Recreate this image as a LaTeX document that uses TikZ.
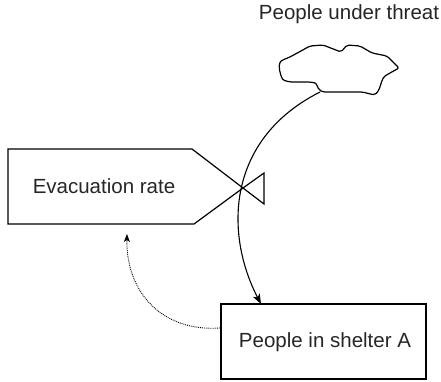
\documentclass[tikz,border=0pt]{standalone}
\usepackage{fontspec}
\setmainfont{Liberation Sans}
\usetikzlibrary{arrows.meta}
\tikzset{
  lbl/.style={font=\fontsize{20.5}{24}\selectfont, text=black!85},
  outline/.style={draw=black, line width=1.2pt},
  flowarrow/.style={line width=1.1pt, -{Stealth[length=10pt,width=7.5pt,inset=2.5pt]}},
  infoarrow/.style={line width=0.9pt, densely dotted, -{Stealth[length=8pt,width=6pt,inset=2pt]}}
}
\begin{document}
\begin{tikzpicture}[x=1pt,y=-1pt]
\useasboundingbox (0,0) rectangle (441,381);

% source cloud
\draw[outline, line join=round, rounded corners=2pt]
  (310,46) -- (323,45) -- (341,52) -- (347,45) -- (360,46) -- (372,53)
  -- (387,56) -- (399,68) -- (390,73) .. controls (383,77) .. (379,90)
  -- (375,95) -- (366,93) -- (363,92) -- (323,92) -- (319,90)
  .. controls (316,83) .. (310,82) -- (290,82) .. controls (282,80) .. (279,68)
  .. controls (280,61) .. (290,57) -- cycle;
\coordinate (cloudout) at (320,92);
\node[lbl, anchor=base] (threat) at (349,19) {People under threat};

% rate (valve) shape
\draw[outline, line join=miter]
  (8,149) -- (192,149) -- (243,188) -- (194,224) -- (8,224) -- cycle;
\draw[outline, line join=miter]
  (243,188) -- (264,173) -- (264,204) -- cycle;
\coordinate (valve) at (243,188);
\node[lbl] (rate) at (104,186) {Evacuation rate};
\coordinate (rateIn) at (127,234);

% stock
\draw[outline] (221,304) rectangle (426,379);
\node[lbl] (shelter) at (325,342) {People in shelter A};
\coordinate (stockTop) at (261,304);
\coordinate (stockLeft) at (220,328);

% flow from cloud into stock
\draw[flowarrow] (cloudout) .. controls (225,140) and (225,235) .. (stockTop);

% information link back to the rate
\draw[infoarrow] (stockLeft) .. controls (160,332) and (126,290) .. (rateIn);
\end{tikzpicture}
\end{document}
